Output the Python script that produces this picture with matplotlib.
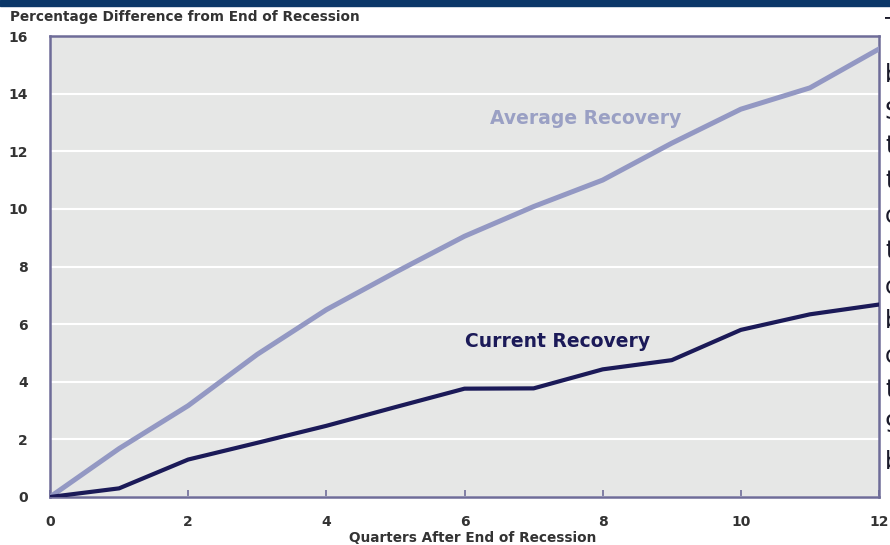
"""
Current vs average recovery after the end of recession
"""

import numpy as np
import matplotlib
matplotlib.use('Agg')
import matplotlib.pyplot as plt

## values, percentage difference from end of recession
quarters = [0, 1, 2, 3, 4, 5, 6, 7, 8, 9, 10, 11, 12]
average_recovery = [0, 1.68, 3.17, 4.95, 6.5, 7.8, 9.05, 10.08, 11.0,
                    12.28, 13.46, 14.2, 15.55]
current_recovery = [0, 0.3, 1.3, 1.88, 2.47, 3.12, 3.76, 3.77, 4.43, 4.75,
                    5.8, 6.34, 6.68]

x_ticks = [0, 2, 4, 6, 8, 10, 12]
y_ticks = [0, 2, 4, 6, 8, 10, 12, 14, 16]

## first letters of the cut off text column on the right of the screenshot
side_letters = ['T', 'b', 'S', 't', 't', 'c', 't', 'c', 'b', 'c', 't', '9', 'b']

avg_col = '#9398c3'
cur_col = '#1b1a58'
spine_col = '#6e6c98'
text_col = '#333333'

fig = plt.figure(figsize=(8.9, 5.45), dpi=100)
fig.patch.set_facecolor('white')

## navy band at the very top (the slide title bar)
fig.patches.append(plt.Rectangle((0, 1 - 6 / 545), 1, 6 / 545,
                                 transform=fig.transFigure,
                                 color='#0b3768', zorder=0))

ax = fig.add_axes([50 / 890, 48 / 545, 829 / 890, 461 / 545])
ax.set_facecolor('#e6e7e6')

ax.plot(quarters, average_recovery, color=avg_col, lw=3.6,
        solid_joinstyle='round', zorder=3)
ax.plot(quarters, current_recovery, color=cur_col, lw=3.0,
        solid_joinstyle='round', zorder=4)

ax.set_xlim(0, 12)
ax.set_ylim(0, 16)
ax.set_xticks(x_ticks)
ax.set_yticks(y_ticks)
ax.grid(axis='y', color='white', lw=1.5)
ax.set_axisbelow(True)

for s in ax.spines.values():
    s.set_color(spine_col)
    s.set_linewidth(1.8)

ax.tick_params(axis='x', direction='in', length=5, width=1.2,
               color=spine_col, pad=13)
ax.tick_params(axis='y', length=0, pad=16)
for lab in ax.get_xticklabels() + ax.get_yticklabels():
    lab.set_fontweight('bold')
    lab.set_fontsize(10)
    lab.set_color(text_col)

## in-chart series labels
ax.text(7.76, 13.15, 'Average Recovery', color='#9aa0c4',
        fontsize=13.5, fontweight='bold', ha='center', va='center')
ax.text(7.34, 5.4, 'Current Recovery', color=cur_col,
        fontsize=13.5, fontweight='bold', ha='center', va='center')

fig.text(10 / 890, 1 - 17 / 545, 'Percentage Difference from End of Recession',
         fontweight='bold', fontsize=9.8, color=text_col,
         ha='left', va='center')
fig.text(473 / 890, 1 - 538 / 545, 'Quarters After End of Recession',
         fontweight='bold', fontsize=9.8, color=text_col,
         ha='center', va='center')

## clipped letters of the neighbouring text block
side_y = [28, 75, 112, 146, 181, 216, 251, 287, 321, 356, 390, 425, 462]
for ch, yy in zip(side_letters, side_y):
    fig.text(885 / 890, 1 - yy / 545, ch, fontsize=17, color='#1a1a2a',
             ha='left', va='center')

fig.savefig('out.png', dpi=100, facecolor='white')
